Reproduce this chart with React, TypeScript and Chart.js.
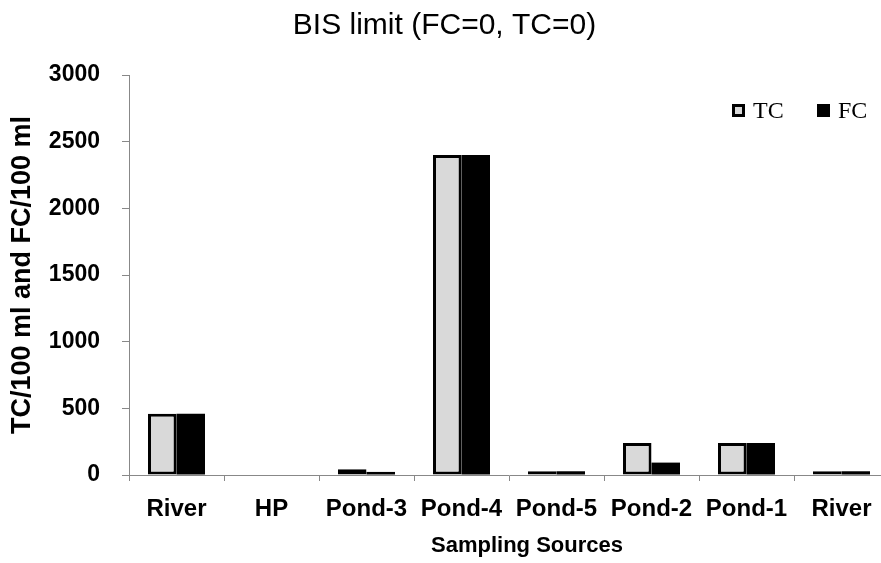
import React, { useEffect, useRef } from "react";
import { Chart, registerables } from "chart.js";

Chart.register(...registerables);

const categories = ["River", "HP", "Pond-3", "Pond-4", "Pond-5", "Pond-2", "Pond-1", "River"];
const tcValues = [460, 0, 43, 2400, 28, 240, 240, 28];
const fcValues = [460, 0, 23, 2400, 28, 93, 240, 28];
const seriesNames = ["TC", "FC"];
const yMin = 0;
const yMax = 3000;
const yStep = 500;
const titleText = "BIS limit (FC=0, TC=0)";
const xTitleText = "Sampling Sources";
const yTitleText = "TC/100 ml and FC/100 ml";

const SANS = "'Liberation Sans', Arial, sans-serif";
const SERIF = "'Liberation Serif', 'Times New Roman', serif";

const extras = {
  id: "extras",
  afterDraw(chart: any) {
    const ctx = chart.ctx;
    const boxX = [732, 817];
    const boxY = 104;
    const box = 13;
    ctx.save();
    chart.data.datasets.forEach((ds: any, i: number) => {
      const x = boxX[i];
      ctx.fillStyle = ds.backgroundColor;
      ctx.fillRect(x + 1.5, boxY + 1.5, box - 3, box - 3);
      ctx.lineWidth = 3;
      ctx.strokeStyle = "#000";
      ctx.strokeRect(x + 1.5, boxY + 1.5, box - 3, box - 3);
      ctx.fillStyle = "#000";
      ctx.font = `24px ${SERIF}`;
      ctx.textAlign = "left";
      ctx.textBaseline = "middle";
      ctx.fillText(ds.label, x + box + 8, boxY + box / 2 + 1);
    });
    // x-axis title
    ctx.font = `bold 22px ${SANS}`;
    ctx.textAlign = "center";
    ctx.textBaseline = "middle";
    ctx.fillStyle = "#000";
    ctx.fillText(xTitleText, 527, 546);
    ctx.restore();
  },
};

export default function App() {
  const ref = useRef<HTMLCanvasElement | null>(null);

  useEffect(() => {
    if (!ref.current) return;
    const chart = new Chart(ref.current, {
      type: "bar",
      data: {
        labels: categories,
        datasets: [
          {
            label: seriesNames[0],
            data: tcValues,
            backgroundColor: "#d9d9d9",
            borderColor: "#000000",
            borderWidth: 3,
            borderSkipped: false,
            barPercentage: 1,
            categoryPercentage: 0.6,
          },
          {
            label: seriesNames[1],
            data: fcValues,
            backgroundColor: "#000000",
            borderColor: "#000000",
            borderWidth: 0,
            barPercentage: 1,
            categoryPercentage: 0.6,
          },
        ],
      },
      options: {
        responsive: false,
        animation: false,
        layout: { padding: { left: 0, right: 6, top: 0, bottom: 0 } },
        plugins: {
          legend: { display: false },
          tooltip: { enabled: false },
          title: {
            display: true,
            text: titleText,
            color: "#000",
            font: { family: SANS, size: 30, weight: "normal" },
            padding: { top: 8, bottom: 31 },
          },
        },
        scales: {
          x: {
            afterFit: (s: any) => {
              s.height = 88;
            },
            grid: {
              display: true,
              drawOnChartArea: false,
              drawTicks: true,
              tickLength: 6,
              color: "#888",
              offset: true,
            },
            border: { display: true, color: "#888", width: 1 },
            ticks: {
              color: "#000",
              padding: 14,
              maxRotation: 0,
              autoSkip: false,
              font: { family: SANS, size: 24, weight: "bold" },
            },
          },
          y: {
            min: yMin,
            max: yMax,
            afterFit: (s: any) => {
              s.width = 129;
            },
            grid: {
              display: true,
              drawOnChartArea: false,
              drawTicks: true,
              tickLength: 7,
              color: "#888",
            },
            border: { display: true, color: "#888", width: 1 },
            ticks: {
              stepSize: yStep,
              color: "#000",
              padding: 22,
              font: { family: SANS, size: 23, weight: "bold" },
              callback: (v: any) => String(v),
            },
            title: {
              display: true,
              text: yTitleText,
              color: "#000",
              font: { family: SANS, size: 27, weight: "bold" },
              padding: { top: 6, bottom: 0 },
            },
          },
        },
      },
      plugins: [extras],
    });
    return () => chart.destroy();
  }, []);

  return (
    <div
      style={{
        position: "fixed",
        left: 0,
        top: 0,
        width: 881,
        height: 563,
        overflow: "hidden",
        background: "#fff",
      }}
    >
      <canvas ref={ref} width={895} height={563} style={{ display: "block" }} />
    </div>
  );
}
